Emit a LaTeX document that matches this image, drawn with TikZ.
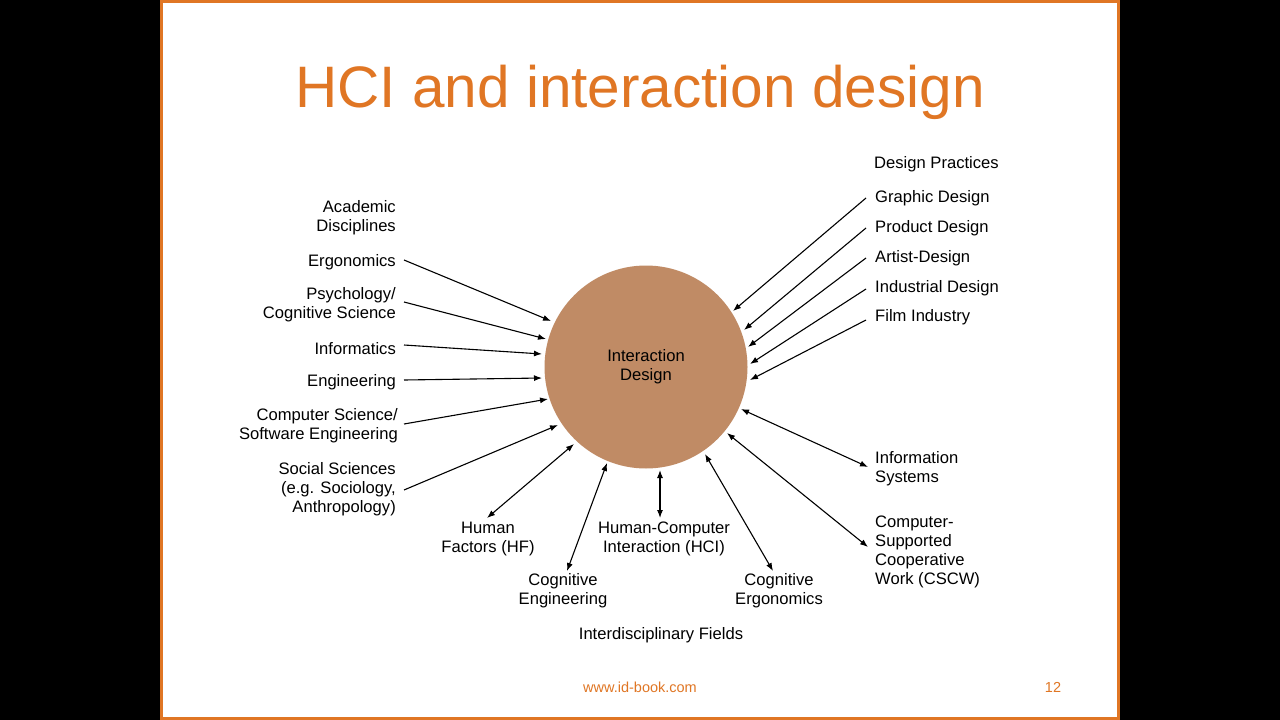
\documentclass[tikz,border=0pt]{standalone}
\usepackage{fontspec}
\usetikzlibrary{arrows.meta}
\setmainfont{Liberation Sans}
\definecolor{ttl}{RGB}{224,118,36}
\begin{document}
\begin{tikzpicture}[x=1pt,y=-1pt,
 lab/.style={font=\fontsize{16.6}{19}\selectfont,align=left,inner sep=0pt},
 labr/.style={lab,align=right},
 arr/.style={-{Latex[length=8pt,width=6pt]},line width=1.1pt},
 darr/.style={{Latex[length=8pt,width=6pt]}-{Latex[length=8pt,width=6pt]},line width=1.1pt}]
\useasboundingbox (0,0) rectangle (1280,720);
\fill[black] (0,0) rectangle (1280,720);
\fill[white,draw=ttl,line width=3pt] (161.5,1.5) rectangle (1118.5,718.5);
\node[font=\fontsize{58.5}{60}\selectfont,text=ttl] (title) at (640,92) {HCI and interaction design};
\fill[color={rgb,255:red,192;green,139;blue,101}] (646,367) circle (101.5);
\begin{scope}[yshift=-2pt]
\node[lab,align=center] (ct) at (646,365) {Interaction\\Design};
% left
\node[labr,anchor=east] (ad) at (396,216) {Academic\\Disciplines};
\node[labr,anchor=east] (erg) at (396,260) {Ergonomics};
\node[labr,anchor=east] (psy) at (396,303) {Psychology/\\Cognitive Science};
\node[labr,anchor=east] (inf) at (396,347) {Informatics};
\node[labr,anchor=east] (eng) at (396,380) {Engineering};
\node[labr,anchor=east] (cs) at (398,424) {Computer Science/\\Software Engineering};
\node[labr,anchor=east] (soc) at (396,487) {Social Sciences\\(e.g. Sociology,\\Anthropology)};
% bottom
\node[lab,align=center] (hf) at (488,537) {Human\\Factors (HF)};
\node[lab,align=center] (ce) at (563,589) {Cognitive\\Engineering};
\node[lab,align=center] (hci) at (664,537) {Human-Computer\\Interaction (HCI)};
\node[lab,align=center] (cer) at (779,589) {Cognitive\\Ergonomics};
\node[lab] (idf) at (661,633) {Interdisciplinary Fields};
% right
\node[lab,anchor=west] (is) at (875,467) {Information\\Systems};
\node[lab,anchor=west] (cscw) at (875,550) {Computer-\\Supported\\Cooperative\\Work (CSCW)};
\node[lab,anchor=west] (dp) at (874,162) {Design Practices};
\node[lab,anchor=west] (gd) at (875,196) {Graphic Design};
\node[lab,anchor=west] (pd) at (875,226) {Product Design};
\node[lab,anchor=west] (ard) at (875,256) {Artist-Design};
\node[lab,anchor=west] (ind) at (875,286) {Industrial Design};
\node[lab,anchor=west] (fi) at (875,315) {Film Industry};
\end{scope}
\draw[arr] (404,260) -- (551,321);
\draw[arr] (404,302) -- (546,339);
\draw[arr] (404,345) -- (542,354);
\draw[arr] (404,380) -- (542,378);
\draw[arr] (404,424) -- (548,399);
\draw[arr] (404,490) -- (558,425);
\draw[darr] (487,518) -- (574,444);
\draw[darr] (567,571) -- (607,463);
\draw[darr] (660,518) -- (660,470);
\draw[darr] (773,571) -- (705,454);
\draw[darr] (868,547) -- (727,433);
\draw[darr] (868,467) -- (741,409);
\draw[arr] (866,198) -- (733,311);
\draw[arr] (866,228) -- (744,330);
\draw[arr] (866,258) -- (748,347);
\draw[arr] (866,289) -- (750,364);
\draw[arr] (866,320) -- (750,380);
\node[lab,text=ttl,font=\fontsize{14.5}{16}\selectfont] (url) at (640,687) {www.id-book.com};
\node[lab,text=ttl,font=\fontsize{14.5}{16}\selectfont] (pg) at (1053,687) {12};
\end{tikzpicture}
\end{document}
